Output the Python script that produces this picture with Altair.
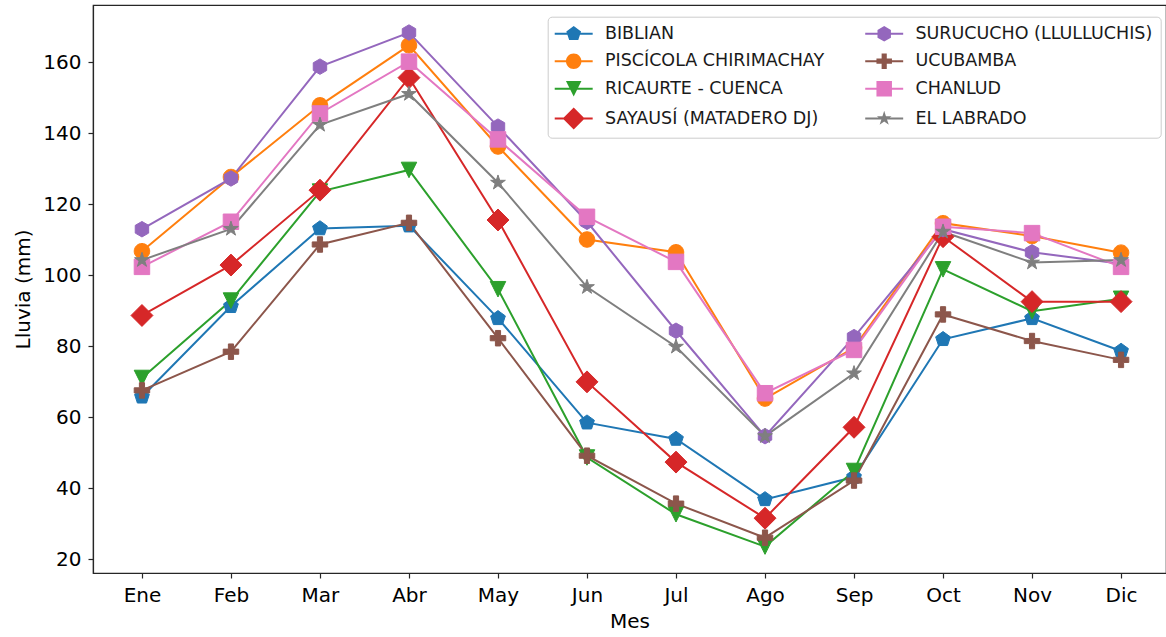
import altair as alt
import pandas as pd

months = ["Ene", "Feb", "Mar", "Abr", "May", "Jun", "Jul", "Ago", "Sep", "Oct", "Nov", "Dic"]
series_names = ["BIBLIAN", "PISCÍCOLA CHIRIMACHAY", "RICAURTE - CUENCA", "SAYAUSÍ (MATADERO DJ)",
                "SURUCUCHO (LLULLUCHIS)", "UCUBAMBA", "CHANLUD", "EL LABRADO"]

biblian = [65.7, 91.2, 113.1, 113.9, 87.8, 58.4, 53.8, 36.8, 43.1, 81.9, 87.8, 78.6]
piscicola = [106.7, 127.6, 147.8, 164.7, 136.2, 110.0, 106.4, 65.2, 79.5, 114.6, 111.0, 106.3]
ricaurte = [71.0, 92.8, 123.5, 129.6, 96.0, 48.6, 32.6, 23.5, 44.8, 101.6, 89.8, 93.3]
sayausi = [88.6, 102.8, 123.9, 155.6, 115.5, 69.9, 47.3, 31.5, 57.1, 110.8, 92.5, 92.5]
surucucho = [112.9, 127.2, 158.7, 168.3, 141.8, 115.0, 84.3, 54.6, 82.5, 112.9, 106.4, 103.2]
ucubamba = [67.5, 78.4, 108.6, 114.7, 82.2, 49.1, 35.6, 26.0, 42.1, 88.9, 81.4, 76.1]
chanlud = [102.3, 115.0, 145.5, 160.1, 138.2, 116.4, 103.7, 66.7, 78.9, 113.6, 111.8, 102.3]
el_labrado = [104.2, 113.0, 142.3, 151.0, 126.0, 96.6, 79.8, 54.6, 72.3, 112.2, 103.5, 104.2]

series_values = [biblian, piscicola, ricaurte, sayausi, surucucho, ucubamba, chanlud, el_labrado]
y_ticks = [20, 40, 60, 80, 100, 120, 140, 160]

# styles
colors = ["#1f77b4", "#ff7f0e", "#2ca02c", "#d62728", "#9467bd", "#8c564b", "#e377c2", "#7f7f7f"]
circle = "M1,0A1,1 0 1,1 -1,0A1,1 0 1,1 1,0Z"
pentagon = "M0,-1L0.951,-0.309L0.588,0.809L-0.588,0.809L-0.951,-0.309Z"
tri_down = "M0,1L-1,-1L1,-1Z"
diamond = "M0,-1.414L1.414,0L0,1.414L-1.414,0Z"
hexagon = "M0,-1L0.866,-0.5L0.866,0.5L0,1L-0.866,0.5L-0.866,-0.5Z"
plus = ("M-0.333,-1L0.333,-1L0.333,-0.333L1,-0.333L1,0.333L0.333,0.333L0.333,1"
        "L-0.333,1L-0.333,0.333L-1,0.333L-1,-0.333L-0.333,-0.333Z")
square = "M-1,-1L1,-1L1,1L-1,1Z"
star = ("M0,-1L0.2245,-0.309L0.951,-0.309L0.363,0.118L0.588,0.809L0,0.382"
        "L-0.588,0.809L-0.363,0.118L-0.951,-0.309L-0.2245,-0.309Z")
markers = [pentagon, circle, tri_down, diamond, hexagon, plus, square, star]
bar = "M-2.45,-0.13L2.45,-0.13L2.45,0.13L-2.45,0.13Z"
legend_paths = [m + bar for m in markers]

rows = []
for s, vals in zip(series_names, series_values):
    for i, v in enumerate(vals):
        rows.append({"series": s, "mi": i, "month": months[i], "value": v})
df = pd.DataFrame(rows)

label_expr = "[" + ",".join("'%s'" % m for m in months) + "][datum.value]"

x_enc = alt.X("mi:Q",
              scale=alt.Scale(domain=[-0.55, 11.505], nice=False, zero=False),
              axis=alt.Axis(values=list(range(12)), labelExpr=label_expr, title="Mes",
                            grid=False, tickSize=5, labelPadding=7, titlePadding=6))
y_enc = alt.Y("value:Q",
              scale=alt.Scale(domain=[16.06, 176.06], nice=False, zero=False),
              axis=alt.Axis(values=y_ticks, title="Lluvia (mm)", grid=False,
                            tickSize=5, labelPadding=7, titlePadding=9.5))

color_scale = alt.Scale(domain=series_names, range=colors)

base = alt.Chart(df)

lines = base.mark_line(strokeWidth=2).encode(
    x=x_enc, y=y_enc,
    color=alt.Color("series:N", scale=color_scale, legend=None),
    order=alt.Order("mi:Q"),
)

points = base.mark_point(filled=True, size=240, opacity=1, strokeWidth=1).encode(
    x=x_enc, y=y_enc,
    color=alt.Color("series:N", scale=color_scale, legend=None),
    stroke=alt.Stroke("series:N", scale=color_scale, legend=None),
    shape=alt.Shape("series:N", scale=alt.Scale(domain=series_names, range=markers), legend=None),
)

leg_props = dict(
    title=None, orient="none", legendX=454.7, legendY=11.7, columns=2,
    columnPadding=40.5, rowPadding=8.7, padding=8, symbolOffset=9.25, labelOffset=22.5,
    labelFont="DejaVu Sans", labelFontSize=17.5, labelColor="#1a1a1a", labelLimit=400,
    fillColor="rgba(255,255,255,0.8)", strokeColor="#cccccc", cornerRadius=4,
    symbolSize=240, symbolStrokeWidth=0,
)

legend_layer = base.transform_filter("false").mark_point(filled=True, size=240, opacity=1).encode(
    x=x_enc, y=y_enc,
    color=alt.Color("series:N", scale=color_scale, legend=alt.Legend(**leg_props)),
    shape=alt.Shape("series:N", scale=alt.Scale(domain=series_names, range=legend_paths),
                    legend=alt.Legend(**leg_props)),
)

chart = alt.layer(lines, points, legend_layer).resolve_scale(
    color="independent", shape="independent", stroke="independent"
).properties(
    width=1073, height=568,
    padding={"left": 93, "top": 5, "right": 0, "bottom": 64},
    autosize=alt.AutoSizeParams(type="none"),
    background="white",
).configure_view(
    stroke="#262626", strokeWidth=1.2
).configure_axis(
    labelFont="DejaVu Sans", titleFont="DejaVu Sans", labelFontSize=20, titleFontSize=20,
    titleFontWeight="normal", labelColor="#000000", titleColor="#000000",
    domainColor="#262626", domainWidth=1.2, tickColor="#262626", tickWidth=1.2,
)

chart.save("out.html", embed_options={"renderer": "svg", "actions": False})
